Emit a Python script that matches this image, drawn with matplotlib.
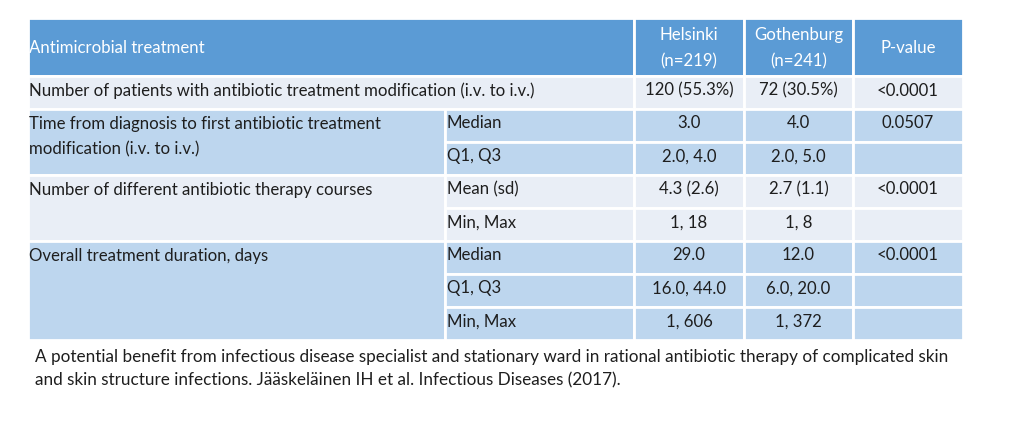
import matplotlib as mpl
mpl.use('Agg')
import matplotlib.pyplot as plt
from matplotlib.patches import Rectangle

plt.rcParams['font.family'] = ['Lato', 'DejaVu Sans']

# table content
header_title = 'Antimicrobial treatment'
group_heads = ['Helsinki\n(n=219)', 'Gothenburg\n(n=241)', 'P-value']
measures = ['Number of patients with antibiotic treatment modification (i.v. to i.v.)',
            'Time from diagnosis to first antibiotic treatment\nmodification (i.v. to i.v.)',
            'Number of different antibiotic therapy courses',
            'Overall treatment duration, days']
stats = [[''], ['Median', 'Q1, Q3'], ['Mean (sd)', 'Min, Max'], ['Median', 'Q1, Q3', 'Min, Max']]
helsinki = [['120 (55.3%)'], ['3.0', '2.0, 4.0'], ['4.3 (2.6)', '1, 18'], ['29.0', '16.0, 44.0', '1, 606']]
gothenburg = [['72 (30.5%)'], ['4.0', '2.0, 5.0'], ['2.7 (1.1)', '1, 8'], ['12.0', '6.0, 20.0', '1, 372']]
p_values = [['<0.0001'], ['0.0507', ''], ['<0.0001', ''], ['<0.0001', '', '']]
caption = ('A potential benefit from infectious disease specialist and stationary ward in rational antibiotic therapy of complicated skin\n'
           'and skin structure infections. Jääskeläinen IH et al. Infectious Diseases (2017).')

# layout (pixels)
col_x = [28, 445, 634, 744, 853, 963]
top, head_h, row_h = 18, 58, 33
line_gap = 26
header_c = '#5B9BD5'
band_c = ['#E9EEF6', '#BDD6EE']
text_c = '#1E1E1E'
fs = 12.1

fig = plt.figure(figsize=(10.24, 4.29), dpi=100)
ax = fig.add_axes([0, 0, 1, 1])
ax.set_xlim(0, 1024)
ax.set_ylim(429, 0)
ax.axis('off')


def cell(x0, x1, y0, y1, c):
    ax.add_patch(Rectangle((x0, y0), x1 - x0, y1 - y0, facecolor=c, edgecolor='white', lw=2))


def lines(x, y0, s, gap, size=fs, **kw):
    for k, t in enumerate(s.split('\n')):
        ax.text(x, y0 + k * gap, t, fontsize=size, va='center', **kw)


# header
cell(col_x[0], col_x[2], top, top + head_h, header_c)
ax.text(col_x[0] + 1, top + head_h / 2 + 1, header_title, color='white', fontsize=fs, va='center')
for j, h in enumerate(group_heads):
    cell(col_x[j + 2], col_x[j + 3], top, top + head_h, header_c)
    n_l = len(h.split('\n'))
    lines((col_x[j + 2] + col_x[j + 3]) / 2, top + head_h / 2 + 1 - (n_l - 1) * line_gap / 2, h, line_gap,
          color='white', ha='center')

y = top + head_h
for i, m in enumerate(measures):
    n = len(stats[i])
    c = band_c[i % 2]
    if stats[i] == ['']:
        cell(col_x[0], col_x[2], y, y + row_h, c)
    else:
        cell(col_x[0], col_x[1], y, y + n * row_h, c)
    lines(col_x[0] + 1, y + row_h / 2 - 2, m, line_gap, color=text_c)
    for r in range(n):
        y0 = y + r * row_h
        if stats[i][r]:
            cell(col_x[1], col_x[2], y0, y0 + row_h, c)
            ax.text(col_x[1] + 2, y0 + row_h / 2 - 2, stats[i][r], color=text_c, fontsize=fs, va='center')
        for j, vals in enumerate([helsinki, gothenburg, p_values]):
            cell(col_x[j + 2], col_x[j + 3], y0, y0 + row_h, c)
            ax.text((col_x[j + 2] + col_x[j + 3]) / 2, y0 + row_h / 2 - 2, vals[i][r], color=text_c,
                    fontsize=fs, ha='center', va='center')
    y += n * row_h

lines(35, 357, caption, 23, size=12.3, color=text_c)

fig.savefig('out.png', dpi=100)
